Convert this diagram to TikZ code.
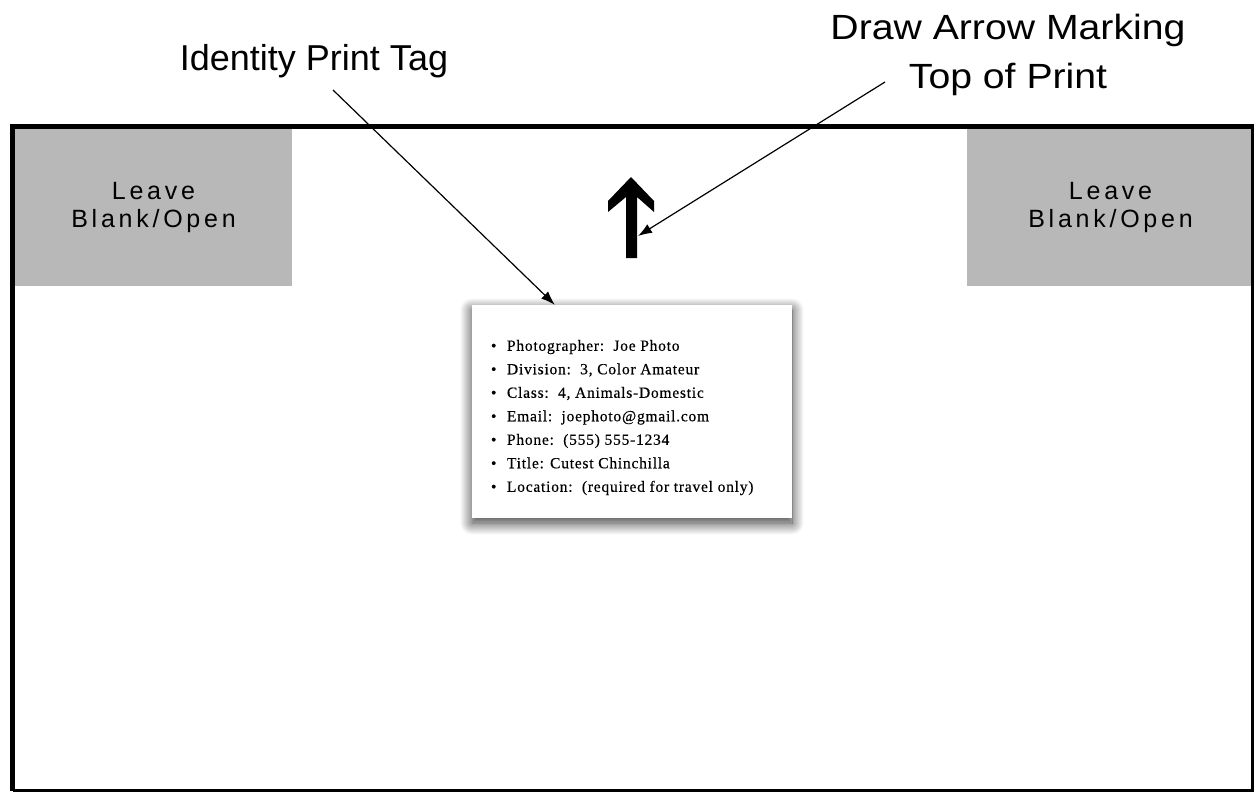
\documentclass[tikz,border=0pt]{standalone}
\usepackage{fontspec}
\setmainfont{Liberation Serif}
\newfontfamily\labelfont{Liberation Sans}
\newfontfamily\blankfont[LetterSpace=15]{Liberation Sans}
\newfontfamily\tagfont[LetterSpace=5,FakeBold=0.4]{Liberation Serif}
\usetikzlibrary{arrows.meta,shadows.blur}

\newcommand{\tagline}[1]{\makebox[16bp][l]{\textbullet}#1}

\tikzset{
  blankbox/.style={fill=black!28,minimum height=157bp,align=center,
    font=\blankfont\fontsize{25bp}{28bp}\selectfont},
  biglabel/.style={font=\labelfont\fontsize{36bp}{49bp}\selectfont,align=center},
  tagcard/.style={fill=white,minimum width=320bp,minimum height=213bp,inner sep=0pt,
    font=\tagfont\fontsize{15.5bp}{23.5bp}\selectfont,
    blur shadow={shadow xshift=0bp,shadow yshift=-5bp,shadow blur radius=12bp,
      shadow blur steps=30,shadow opacity=80}},
  pointer/.style={draw,line width=1.2bp,-{Latex[length=14bp,width=10bp]}}
}

\begin{document}
\begin{tikzpicture}[x=1bp,y=-1bp]
  \useasboundingbox (0,0) rectangle (1254,793);

  % corners to keep free
  \node[blankbox,minimum width=277bp] (leftblank)  at (153.5,207.5) {Leave\\Blank/Open};
  \node[blankbox,minimum width=287bp] (rightblank) at (1110.5,207.5) {Leave\\Blank/Open};

  % print outline
  \draw[line width=5bp] (12.5,791) -- (12.5,126) -- (1254,126);
  \draw[line width=2.5bp] (1252.5,126) -- (1252.5,790.5) -- (12.5,790.5);

  % top-of-print arrow
  \fill (631,177) -- (654,201) -- (654,212) -- (637,197) -- (637,258)
    -- (626,258) -- (626,197) -- (608,212) -- (608,201) -- cycle;

  \node[tagcard] (tag) at (632,411.5) {\parbox[c][213bp][t]{282bp}{%
    \vspace*{35bp}
    \tagline{Photographer:\ \ Joe Photo}\\
    \tagline{Division:\ \ 3, Color Amateur}\\
    \tagline{Class:\ \ 4, Animals-Domestic}\\
    \tagline{Email:\ \ joephoto@gmail.com}\\
    \tagline{Phone:\ \ (555) 555-1234}\\
    \tagline{Title: Cutest Chinchilla}\\
    \tagline{Location:\ \ (required for travel only)}}};

  \begin{scope}[every node/.style={biglabel}]
    \node[anchor=base] (idlabel) at (314,71) {Identity Print Tag};
    \node[xscale=1.12,transform shape,font=\labelfont\fontsize{35bp}{49bp}\selectfont]
      (toplabel) at (1008,55) {Draw Arrow Marking\\Top of Print};
  \end{scope}

  \coordinate (idfoot) at (333,90);
  \coordinate (topfoot) at (885,82);
  \coordinate (arrowside) at (638,236);

  \path (idfoot)  edge[pointer] ([xshift=83bp]tag.north west);
  \path (topfoot) edge[pointer] (arrowside);

\end{tikzpicture}
\end{document}
